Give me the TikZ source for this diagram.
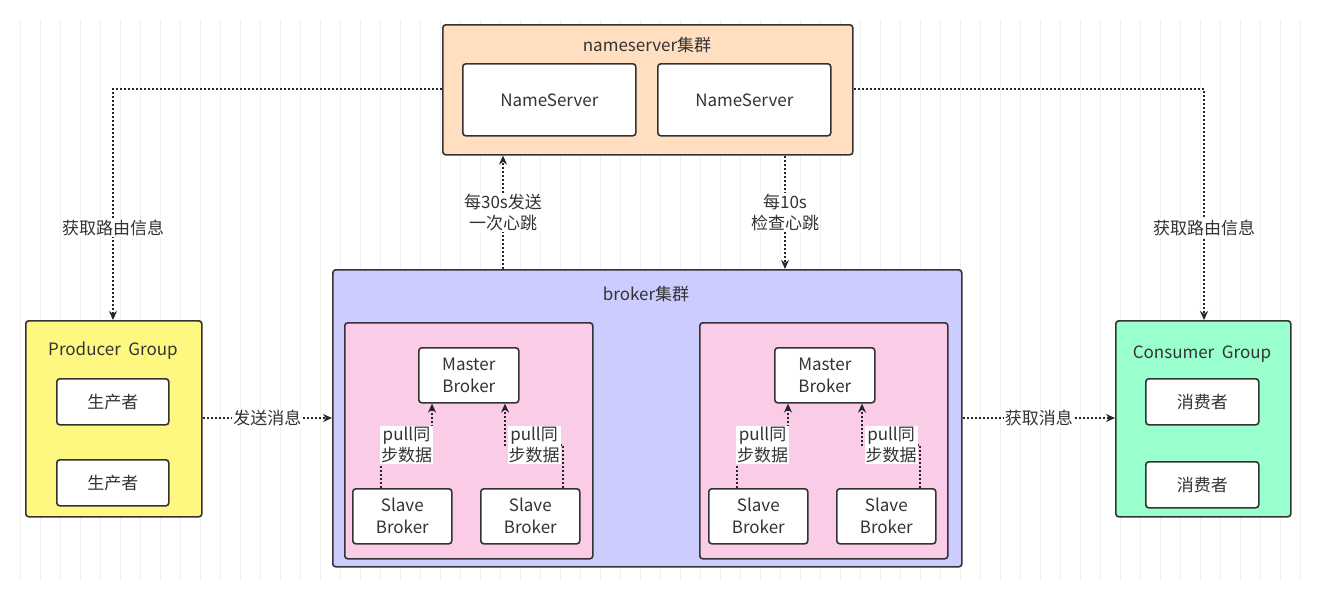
\documentclass[tikz,border=0pt]{standalone}
\usepackage{fontspec}
\setmainfont{Noto Sans CJK SC}
\usetikzlibrary{arrows.meta}
\definecolor{txt}{HTML}{333333}
\begin{document}
\begin{tikzpicture}[x=1pt,y=-1pt,
  font=\fontsize{17}{21}\selectfont, text=txt,
  box/.style={draw=black!80,line width=1.6pt,rounded corners=3pt,anchor=north west,inner sep=0pt},
  conn/.style={draw=black!85,line width=2pt,dotted,-{Stealth[length=9pt,width=8pt,fill=black!85]}},
  lab/.style={fill=white,inner sep=1pt,align=center,font=\fontsize{17}{21}\selectfont}]
\useasboundingbox (0,0) rectangle (1321,595);
\draw[black!6,step=20] (20,20) grid (1300,580);
% nameserver
\node[box,fill=orange!25,minimum width=410,minimum height=130] (ns) at (442,24) {};
\node at (647,45) (nst) {nameserver集群};
\node[box,fill=white,minimum width=173,minimum height=72] (ns1) at (462,63) {};
\node at (ns1.center) (ns1t) {NameServer};
\node[box,fill=white,minimum width=173,minimum height=72] (ns2) at (657,63) {};
\node at (ns2.center) (ns2t) {NameServer};
% broker cluster
\node[box,fill=blue!20,minimum width=629,minimum height=297] (bc) at (332,269) {};
\node at (646,294) (bct) {broker集群};
\foreach \n/\x in {L/344,R/699}{
  \node[box,fill=magenta!20,minimum width=248,minimum height=236] (g\n) at (\x,322) {};
}
\foreach \n/\x in {mL/418,mR/774}{
  \node[box,fill=white,minimum width=100,minimum height=55,align=center] (\n) at (\x,347) {};
  \node[align=center,font=\fontsize{17}{22}\selectfont] at (\n.center) {Master\\Broker};
}
\foreach \n/\x in {s1/352,s2/480,s3/708,s4/836}{
  \node[box,fill=white,minimum width=99,minimum height=55] (\n) at (\x,488) {};
  \node[align=center,font=\fontsize{17}{22}\selectfont] at (\n.center) {Slave\\Broker};
}
% producer / consumer
\node[box,fill=yellow!50,minimum width=176,minimum height=196] (pg) at (25,320) {};
\node at (113,351) (pgt) {Producer~~Group};
\node[box,fill=white,minimum width=112,minimum height=46] (p1) at (56,378) {};
\node at (p1.center) {生产者};
\node[box,fill=white,minimum width=112,minimum height=46] (p2) at (56,459) {};
\node at (p2.center) {生产者};
\node[box,fill={rgb,255:red,153;green,255;blue,204},minimum width=175,minimum height=196] (cg) at (1115,320) {};
\node at (1202,354) (cgt) {Consumer~~Group};
\node[box,fill=white,minimum width=113,minimum height=46] (c1) at (1145,378) {};
\node at (c1.center) {消费者};
\node[box,fill=white,minimum width=113,minimum height=46] (c2) at (1145,461) {};
\node at (c2.center) {消费者};
% connectors
\draw[conn] (ns.west |- 0,89) -| node[lab,pos=0.8]{获取路由信息} (pg.north -| 113,0);
\draw[conn] (ns.east |- 0,89) -| node[lab,pos=0.8]{获取路由信息} (cg.north -| 1204,0);
\draw[conn] (bc.north -| 503,0) -- node[lab]{每30s发送\\一次心跳} (ns.south -| 503,0);
\draw[conn] (ns.south -| 785,0) -- node[lab]{每10s\\检查心跳} (bc.north -| 785,0);
\draw[conn] (pg.east |- 0,418) -- node[lab]{发送消息} (bc.west |- 0,418);
\draw[conn] (bc.east |- 0,418) -- node[lab]{获取消息} (cg.west |- 0,418);
\draw[conn] (s1.north -| 381,0) |- node[lab,pos=0.75]{pull同\\步数据} (432,445) -- (mL.south -| 432,0);
\draw[conn] (s2.north -| 563,0) |- node[lab,pos=0.75]{pull同\\步数据} (505,445) -- (mL.south -| 505,0);
\draw[conn] (s3.north -| 737,0) |- node[lab,pos=0.75]{pull同\\步数据} (788,445) -- (mR.south -| 788,0);
\draw[conn] (s4.north -| 920,0) |- node[lab,pos=0.75]{pull同\\步数据} (862,445) -- (mR.south -| 862,0);
\end{tikzpicture}
\end{document}
